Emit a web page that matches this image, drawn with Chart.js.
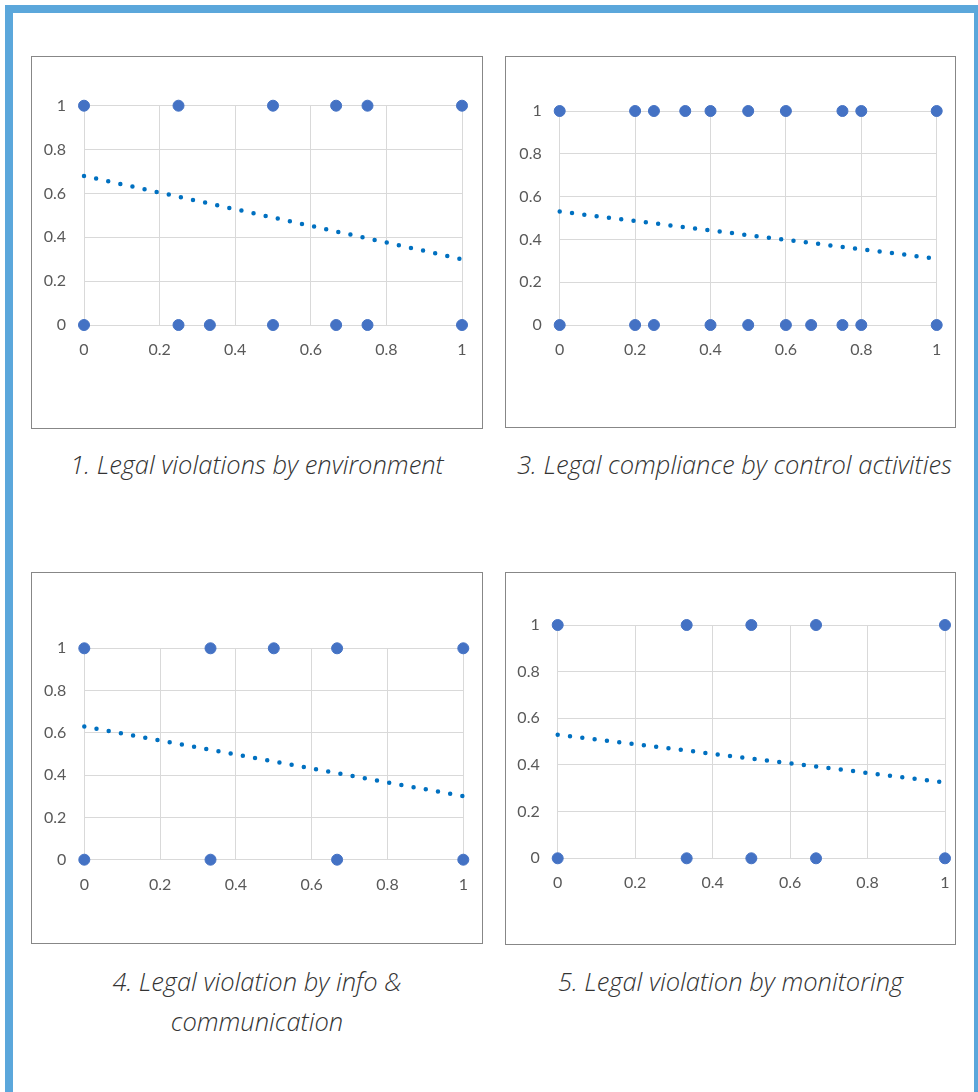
<!DOCTYPE html>
<html>
<head>
<meta charset="utf-8">
<script src="https://cdn.jsdelivr.net/npm/chart.js@4"></script>
<style>
  html, body { margin: 0; padding: 0; background: #fff; width: 978px; height: 1092px; overflow: hidden; position: relative; }
  .frame { position: absolute; left: 5px; top: 5px; width: 977px; height: 1100px; box-sizing: border-box; border: 8px solid #5BA7DB; }
  .panel { position: absolute; box-sizing: border-box; border: 1px solid #878787; background: #fff; }
  .panel canvas { display: block; }
  .caption { position: absolute; text-align: center; font-family: "Open Sans", Lato, sans-serif; font-style: italic; font-weight: 300;
             font-size: 25.5px; line-height: 40px; color: #333333; white-space: nowrap; }
</style>
</head>
<body>
<div class="frame"></div>

<div class="panel" style="left:31px;top:56px;width:452px;height:373px"><canvas id="envChart" width="450" height="371"></canvas></div>
<div class="panel" style="left:505px;top:56px;width:451px;height:372px"><canvas id="controlChart" width="449" height="370"></canvas></div>
<div class="panel" style="left:31px;top:572px;width:452px;height:372px"><canvas id="infoChart" width="450" height="370"></canvas></div>
<div class="panel" style="left:505px;top:572px;width:451px;height:373px"><canvas id="monitorChart" width="449" height="371"></canvas></div>

<div class="caption" style="left:31px;width:452px;top:444px">1. Legal violations by environment</div>
<div class="caption" style="left:509px;width:451px;top:444px">3. Legal compliance by control activities</div>
<div class="caption" style="left:31px;width:452px;top:961px">4. Legal violation by info &amp;<br>communication</div>
<div class="caption" style="left:505px;width:451px;top:961px">5. Legal violation by monitoring</div>

<script>
// Shared tick values for both axes
const tickValues = [0, 0.2, 0.4, 0.6, 0.8, 1];

// 1. Legal violations by environment
const envX = [0, 0.25, 0.5, 0.667, 0.75, 1, 0, 0.25, 0.333, 0.5, 0.667, 0.75, 1];
const envY = [1, 1, 1, 1, 1, 1, 0, 0, 0, 0, 0, 0, 0];
const envTrend = [0.68, 0.30];

// 3. Legal compliance by control activities
const controlX = [0, 0.2, 0.25, 0.333, 0.4, 0.5, 0.6, 0.75, 0.8, 1,
                  0, 0.2, 0.25, 0.4, 0.5, 0.6, 0.667, 0.75, 0.8, 1];
const controlY = [1, 1, 1, 1, 1, 1, 1, 1, 1, 1,
                  0, 0, 0, 0, 0, 0, 0, 0, 0, 0];
const controlTrend = [0.53, 0.31];

// 4. Legal violation by info & communication
const infoX = [0, 0.333, 0.5, 0.667, 1, 0, 0.333, 0.667, 1];
const infoY = [1, 1, 1, 1, 1, 0, 0, 0, 0];
const infoTrend = [0.63, 0.30];

// 5. Legal violation by monitoring
const monitorX = [0, 0.333, 0.5, 0.667, 1, 0, 0.333, 0.5, 0.667, 1];
const monitorY = [1, 1, 1, 1, 1, 0, 0, 0, 0, 0];
const monitorTrend = [0.53, 0.325];

const MARKER = '#4472C4';
const TREND = '#0070C0';
const GRID = '#D9D9D9';
const Y_FONT = { family: 'Lato, "Open Sans", sans-serif', size: 16 };
// tall line box pushes the x labels below the axis without widening the side padding
const X_FONT = { family: 'Lato, "Open Sans", sans-serif', size: 16, lineHeight: 3 };

function makeScatter(id, xs, ys, trend, box) {
  const points = xs.map((x, i) => ({ x: x, y: ys[i] }));
  const trendPoints = [{ x: tickValues[0], y: trend[0] }, { x: tickValues[tickValues.length - 1], y: trend[1] }];
  const useTicks = scale => { scale.ticks = tickValues.map(v => ({ value: v })); };
  return new Chart(document.getElementById(id), {
    type: 'scatter',
    data: {
      datasets: [
        {
          data: points,
          clip: false,
          pointRadius: 5.5,
          pointBorderWidth: 1,
          pointBackgroundColor: MARKER,
          pointBorderColor: MARKER
        },
        {
          data: trendPoints,
          clip: false,
          showLine: true,
          pointRadius: 0,
          borderColor: TREND,
          borderWidth: 4.5,
          borderDash: [0, 12.4],
          borderCapStyle: 'round'
        }
      ]
    },
    options: {
      responsive: false,
      animation: false,
      events: [],
      layout: { padding: { left: box.padL, top: box.padT, right: box.padR, bottom: box.padB } },
      plugins: { legend: { display: false }, tooltip: { enabled: false } },
      scales: {
        x: {
          type: 'linear', min: 0, max: 1,
          afterBuildTicks: useTicks,
          afterFit: s => { s.height = 40; },
          grid: { color: GRID, drawTicks: false },
          border: { color: GRID },
          ticks: { color: '#595959', font: X_FONT, padding: 1, maxRotation: 0, autoSkip: false,
                   callback: v => String(+v.toFixed(1)) }
        },
        y: {
          type: 'linear', min: 0, max: 1,
          afterBuildTicks: useTicks,
          afterFit: s => { s.width = 42; },
          grid: { color: GRID, drawTicks: false },
          border: { color: GRID },
          ticks: { color: '#595959', font: Y_FONT, padding: 18,
                   callback: v => String(+v.toFixed(1)) }
        }
      }
    }
  });
}

makeScatter('envChart', envX, envY, envTrend, { padL: 10, padT: 48.7, padR: 20, padB: 63 });
makeScatter('controlChart', controlX, controlY, controlTrend, { padL: 11.7, padT: 54, padR: 18.3, padB: 62 });
makeScatter('infoChart', infoX, infoY, infoTrend, { padL: 10.3, padT: 75.3, padR: 18.7, padB: 43.3 });
makeScatter('monitorChart', monitorX, monitorY, monitorTrend, { padL: 9.7, padT: 52, padR: 10, padB: 45.7 });
</script>
</body>
</html>
